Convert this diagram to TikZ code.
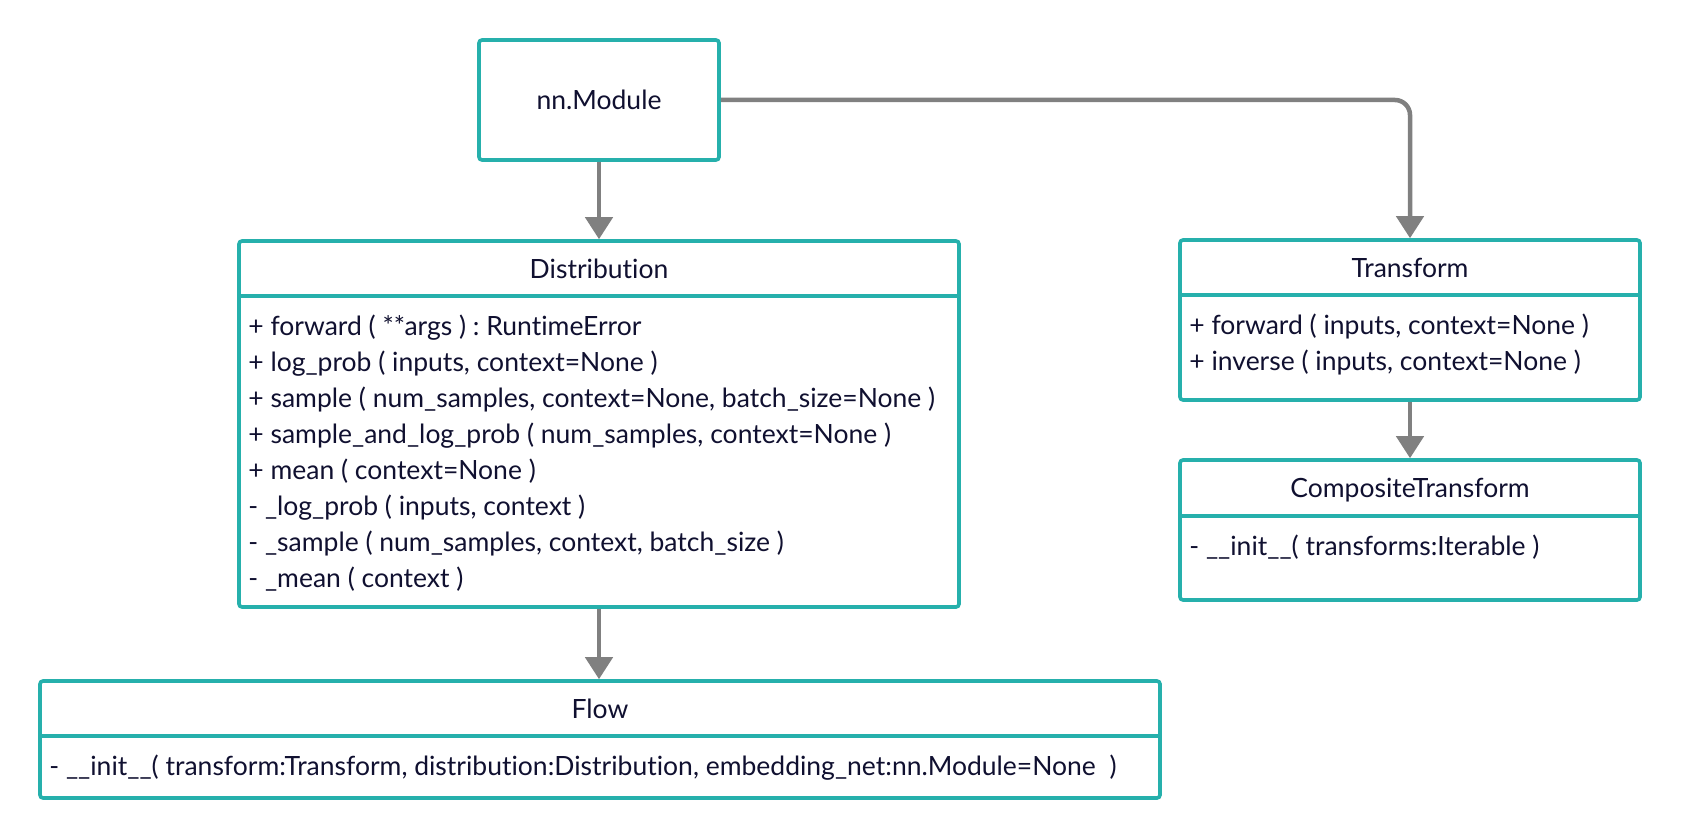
\documentclass[tikz,border=0pt]{standalone}
\usepackage{fontspec}
\setmainfont{Lato}[Ligatures={NoCommon}]
\usepackage{tikz}
\usetikzlibrary{calc,arrows.meta}
\definecolor{umlteal}{RGB}{38,176,172}
\definecolor{umlink}{RGB}{16,16,48}
\definecolor{umlgray}{RGB}{128,128,128}
\tikzset{
	umlbox/.style={draw=umlteal, line width=3.6pt, rounded corners=3pt, inner sep=0pt, fill=white},
	divider/.style={draw=umlteal, line width=3.6pt},
	title/.style={text=umlink, font=\fontsize{26.5}{32}\selectfont, inner sep=0pt, anchor=base},
	member/.style={text=umlink, font=\fontsize{26.5}{32}\selectfont, inner sep=0pt, anchor=base west},
	inherit/.style={draw=umlgray, line width=4.5pt, -{Triangle[width=27pt,length=22pt]}}
}
\frenchspacing

\begin{document}
\begin{tikzpicture}[x=1pt, y=-1pt]
		%%%%% START %%%%%
		\useasboundingbox[fill=white] (0, 0) rectangle (1681, 840);
		
		% boxes
		\node[umlbox, minimum width=240, minimum height=120] (mod) at (599, 100) {};
		\node[umlbox, minimum width=720, minimum height=366] (dist) at (599, 424) {};
		\node[umlbox, minimum width=460, minimum height=160] (trans) at (1410, 320) {};
		\node[umlbox, minimum width=460, minimum height=140] (comp) at (1410, 530) {};
		\node[umlbox, minimum width=1120, minimum height=117] (flow) at (600, 739.5) {};
		
		% dividers
		\draw[divider] ($(dist.north west)+(0, 57)$) -- ($(dist.north east)+(0, 57)$);
		\draw[divider] ($(trans.north west)+(0, 57)$) -- ($(trans.north east)+(0, 57)$);
		\draw[divider] ($(comp.north west)+(0, 58)$) -- ($(comp.north east)+(0, 58)$);
		\draw[divider] ($(flow.north west)+(0, 57)$) -- ($(flow.north east)+(0, 57)$);
		
		% titles
		\node[title] (modT) at ($(mod.center)+(0, 10)$) {nn.Module};
		\node[title] (distT) at ($(dist.north)+(0, 39)$) {Distribution};
		\node[title] (transT) at ($(trans.north)+(0, 39.5)$) {Transform};
		\node[title] (compT) at ($(comp.north)+(0, 39.5)$) {CompositeTransform};
		\node[title] (flowT) at ($(flow.north)+(0, 39)$) {Flow};
		
		% members
		\node[member] (distA) at ($(dist.north west)+(11, 96)$) {+ forward ( **args ) : RuntimeError};
		\node[member] (distB) at ($(dist.north west)+(11, 132)$) {+ log\_prob ( inputs, context=None )};
		\node[member] (distC) at ($(dist.north west)+(11, 168)$) {+ sample ( num\_samples, context=None, batch\_size=None )};
		\node[member] (distD) at ($(dist.north west)+(11, 204)$) {+ sample\_and\_log\_prob ( num\_samples, context=None )};
		\node[member] (distE) at ($(dist.north west)+(11, 240)$) {+ mean ( context=None )};
		\node[member] (distF) at ($(dist.north west)+(11, 276)$) {- \_log\_prob ( inputs, context )};
		\node[member] (distG) at ($(dist.north west)+(11, 312)$) {- \_sample ( num\_samples, context, batch\_size )};
		\node[member] (distH) at ($(dist.north west)+(11, 348)$) {- \_mean ( context )};
		
		\node[member] (transA) at ($(trans.north west)+(11, 96)$) {+ forward ( inputs, context=None )};
		\node[member] (transB) at ($(trans.north west)+(11, 132)$) {+ inverse ( inputs, context=None )};
		
		\node[member] (compA) at ($(comp.north west)+(11, 97)$) {- \_\_init\_\_( transforms:Iterable )};
		
		\node[member] (flowA) at ($(flow.north west)+(11, 96)$) {- \_\_init\_\_( transform:Transform, distribution:Distribution, embedding\_net:nn.Module=None\ \ )};
		
		% inheritance arrows
		\draw[inherit] (mod.south) -- (dist.north);
		\draw[inherit, rounded corners=15pt] (mod.east) -| (trans.north);
		\draw[inherit] (trans.south) -- (comp.north);
		\draw[inherit] (dist.south) -- (dist.south |- flow.north);
		
		%%%%% END %%%%%
	\end{tikzpicture}
\end{document}
